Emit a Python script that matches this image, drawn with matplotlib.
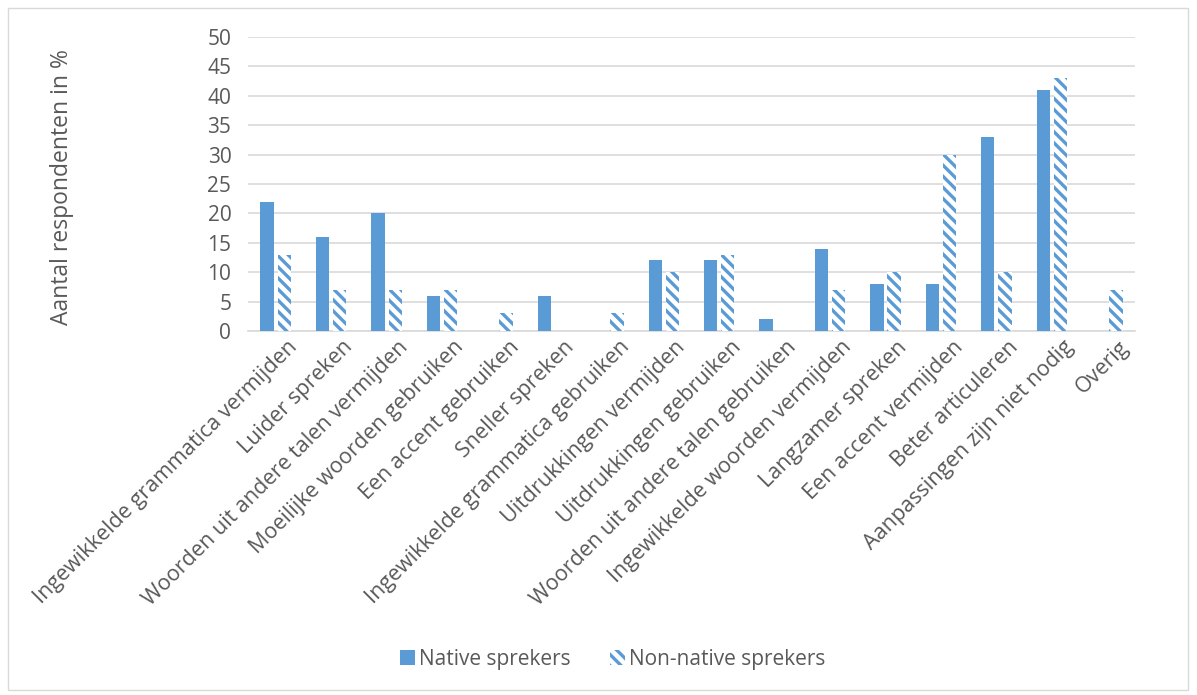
import numpy as np
import matplotlib.pyplot as plt
from matplotlib.patches import Rectangle

plt.rcParams['font.family'] = ['Open Sans', 'DejaVu Sans']
plt.rcParams['hatch.linewidth'] = 2.4

# data
categorieen = [
    "Ingewikkelde grammatica vermijden",
    "Luider spreken",
    "Woorden uit andere talen vermijden",
    "Moeilijke woorden gebruiken",
    "Een accent gebruiken",
    "Sneller spreken",
    "Ingewikkelde grammatica gebruiken",
    "Uitdrukkingen vermijden",
    "Uitdrukkingen gebruiken",
    "Woorden uit andere talen gebruiken",
    "Ingewikkelde woorden vermijden",
    "Langzamer spreken",
    "Een accent vermijden",
    "Beter articuleren",
    "Aanpassingen zijn niet nodig",
    "Overig",
]
native = [22, 16, 20, 6, 0, 6, 0, 12, 12, 2, 14, 8, 8, 33, 41, 0]
non_native = [13, 7, 7, 7, 3, 0, 3, 10, 13, 0, 7, 10, 30, 10, 43, 7]

blauw = "#5B9BD5"
grijs = "#595959"

fig = plt.figure(figsize=(11.97, 6.95), dpi=100)
ax = fig.add_axes([248 / 1197, 1 - 331 / 695, (1135 - 248) / 1197, (331 - 37) / 695])

# rand om de figuur
fig.patches.append(Rectangle((8 / 1197, 5 / 695), 1180 / 1197, 682 / 695,
                             transform=fig.transFigure, fill=False,
                             edgecolor="#D9D9D9", linewidth=1))

x = np.arange(len(categorieen))
b = 0.24
ax.bar(x - b / 2 - 0.035, native, b, color=blauw, label="Native sprekers", zorder=3)
ax.bar(x + b / 2 + 0.035, non_native, b, color="white", edgecolor=blauw, hatch="\\\\\\",
       linewidth=0, label="Non-native sprekers", zorder=3)

ax.set_xlim(-0.5, len(categorieen) - 0.5)
ax.set_ylim(0, 50)
ax.set_yticks(range(0, 51, 5))
ax.yaxis.grid(True, color="#D9D9D9", linewidth=1.2, zorder=0)
ax.tick_params(axis="both", length=0, labelsize=15, colors=grijs, pad=12)
ax.tick_params(axis="x", pad=4, labelsize=15.5)
for s in ["top", "right", "left"]:
    ax.spines[s].set_visible(False)
ax.spines["bottom"].set_color("#D9D9D9")
ax.spines["bottom"].set_linewidth(1.2)

ax.set_xticks(x + 0.2)
ax.set_xticklabels(categorieen, rotation=45, ha="right", rotation_mode="anchor")

fig.text(62 / 1197, 1 - 187 / 695, "Aantal respondenten in %", rotation=90,
         ha="center", va="center", fontsize=16.5, color=grijs)

fig.legend(loc="center", bbox_to_anchor=(0.512, 1 - 659 / 695), ncol=2, frameon=False,
           fontsize=15, labelcolor=grijs, handlelength=0.7, handleheight=0.7,
           handletextpad=0.2, columnspacing=1.9)

fig.savefig("out.png", dpi=100)
